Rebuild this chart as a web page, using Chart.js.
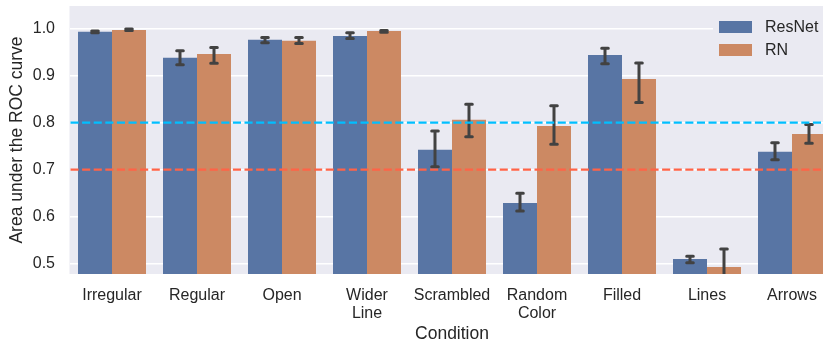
<!DOCTYPE html>
<html>
<head>
<meta charset="utf-8">
<script src="https://cdn.jsdelivr.net/npm/chart.js@4/dist/chart.umd.min.js"></script>
<style>
  html, body { margin: 0; padding: 0; background: #ffffff; overflow: hidden; }
  #wrap { width: 823px; height: 347px; overflow: hidden; }
  canvas { display: block; }
</style>
</head>
<body>
<div id="wrap"><canvas id="chart" width="836" height="347"></canvas></div>
<script>
// Conditions on the x axis
const categories = ['Irregular', 'Regular', 'Open', ['Wider', 'Line'], 'Scrambled', ['Random', 'Color'], 'Filled', 'Lines', 'Arrows'];

// Mean area under the ROC curve per model
const resnetAuc = [0.993, 0.938, 0.976, 0.984, 0.742, 0.629, 0.944, 0.510, 0.738];
const rnAuc     = [0.997, 0.946, 0.974, 0.995, 0.806, 0.793, 0.893, 0.493, 0.776];

// Confidence interval bounds
const resnetLow  = [0.991, 0.923, 0.970, 0.979, 0.706, 0.612, 0.925, 0.502, 0.721];
const resnetHigh = [0.995, 0.953, 0.981, 0.991, 0.782, 0.650, 0.958, 0.516, 0.757];
const rnLow      = [0.996, 0.926, 0.968, 0.992, 0.770, 0.754, 0.843, 0.455, 0.756];
const rnHigh     = [0.999, 0.960, 0.981, 0.996, 0.839, 0.836, 0.927, 0.531, 0.796];

// Reference levels drawn as dashed horizontal lines
const refLevels = [0.8, 0.7];

// Y axis ticks and range
const yTicks = [0.5, 0.6, 0.7, 0.8, 0.9, 1.0];
const yMin = 0.478;
const yMax = 1.048;

const TEXT = '#262626';
const FONT = '"Liberation Sans", Arial, sans-serif';
const refColors = ['#00BFFF', '#FF6347'];

const backgroundPlugin = {
  id: 'plotBackground',
  beforeDraw(chart) {
    const { ctx, chartArea: a } = chart;
    ctx.save();
    ctx.fillStyle = '#EAEAF2';
    ctx.fillRect(a.left, a.top, a.right - a.left, a.bottom - a.top);
    ctx.restore();
  }
};

const errorBarPlugin = {
  id: 'errorBars',
  afterDatasetsDraw(chart) {
    const { ctx, chartArea: a } = chart;
    const y = chart.scales.y;
    const bounds = [[resnetLow, resnetHigh], [rnLow, rnHigh]];
    ctx.save();
    ctx.beginPath();
    ctx.rect(a.left, a.top, a.right - a.left, a.bottom - a.top);
    ctx.clip();
    ctx.strokeStyle = '#424242';
    ctx.lineWidth = 3;
    bounds.forEach(([lo, hi], di) => {
      const meta = chart.getDatasetMeta(di);
      meta.data.forEach((bar, i) => {
        const x = bar.x;
        const y1 = y.getPixelForValue(lo[i]);
        const y2 = y.getPixelForValue(hi[i]);
        ctx.beginPath();
        ctx.lineCap = 'butt';
        ctx.moveTo(x, y1);
        ctx.lineTo(x, y2);
        ctx.stroke();
        ctx.lineCap = 'round';
        ctx.beginPath();
        ctx.moveTo(x - 3.3, y1); ctx.lineTo(x + 3.3, y1);
        ctx.moveTo(x - 3.3, y2); ctx.lineTo(x + 3.3, y2);
        ctx.stroke();
      });
    });
    ctx.restore();
  }
};

const refLinePlugin = {
  id: 'refLines',
  afterDatasetsDraw(chart) {
    const { ctx, chartArea: a } = chart;
    const y = chart.scales.y;
    ctx.save();
    ctx.lineWidth = 2.2;
    ctx.setLineDash([8.1, 3.5]);
    refLevels.forEach((v, i) => {
      const py = y.getPixelForValue(v);
      ctx.strokeStyle = refColors[i];
      ctx.beginPath();
      ctx.moveTo(a.left + 1, py);
      ctx.lineTo(a.right, py);
      ctx.stroke();
    });
    ctx.restore();
  }
};

const legendPlugin = {
  id: 'innerLegend',
  afterDraw(chart) {
    const { ctx } = chart;
    ctx.save();
    ctx.fillStyle = '#EAEAF2';
    ctx.fillRect(713, 10, 120, 56);
    ctx.font = '16px ' + FONT;
    ctx.textBaseline = 'middle';
    ctx.textAlign = 'left';
    chart.data.datasets.forEach((ds, i) => {
      const cy = 27 + i * 23;
      ctx.fillStyle = ds.backgroundColor;
      ctx.fillRect(719, cy - 6, 33, 12);
      ctx.fillStyle = TEXT;
      ctx.fillText(ds.label, 765, cy + 1);
    });
    ctx.restore();
  }
};

new Chart(document.getElementById('chart'), {
  type: 'bar',
  data: {
    labels: categories,
    datasets: [
      { label: 'ResNet', data: resnetAuc, backgroundColor: '#5875A4', borderWidth: 0 },
      { label: 'RN', data: rnAuc, backgroundColor: '#CC8963', borderWidth: 0 }
    ]
  },
  options: {
    responsive: false,
    animation: false,
    devicePixelRatio: 1,
    layout: { padding: { top: 6, right: 1.5, bottom: 0, left: 0 } },
    datasets: { bar: { categoryPercentage: 0.8, barPercentage: 1.0 } },
    plugins: {
      legend: { display: false },
      tooltip: { enabled: false }
    },
    scales: {
      x: {
        grid: { display: false, drawTicks: false },
        border: { display: false },
        ticks: {
          color: TEXT,
          font: { family: FONT, size: 16, lineHeight: 1.08 },
          padding: 13.2,
          maxRotation: 0,
          autoSkip: false
        },
        title: {
          display: true,
          text: 'Condition',
          color: TEXT,
          font: { family: FONT, size: 17.5, lineHeight: 1.2 },
          padding: { top: 4, bottom: 2.5 }
        },
        afterFit(scale) {
          scale.height = 73;
          scale.paddingLeft = 0;
          scale.paddingRight = 0;
        }
      },
      y: {
        min: yMin,
        max: yMax,
        grid: { color: '#FFFFFF', lineWidth: 1.5, drawTicks: false },
        border: { display: false },
        afterBuildTicks(scale) { scale.ticks = yTicks.map(v => ({ value: v })); },
        ticks: {
          color: TEXT,
          font: { family: FONT, size: 16 },
          padding: 14.5,
          callback: v => Number(v).toFixed(1)
        },
        title: {
          display: true,
          text: 'Area under the ROC curve',
          color: TEXT,
          font: { family: FONT, size: 17.5, lineHeight: 1.2 },
          padding: { top: 7, bottom: 4 }
        },
        afterFit(scale) {
          scale.width = 69.5;
          scale.paddingTop = 0;
          scale.paddingBottom = 0;
        }
      }
    }
  },
  plugins: [backgroundPlugin, errorBarPlugin, refLinePlugin, legendPlugin]
});
</script>
</body>
</html>
